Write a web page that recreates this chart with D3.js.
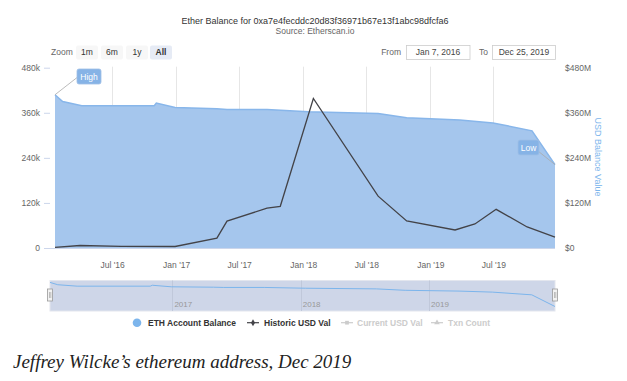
<!DOCTYPE html>
<html><head><meta charset="utf-8">
<script src="https://cdn.jsdelivr.net/npm/d3@7"></script>
<style>body{margin:0;background:#fff}svg{display:block}text{font-family:"Liberation Sans",Arial,sans-serif}</style>
</head><body>
<svg id="c" width="627" height="381"></svg>
<script>
// ---- data ----
const balanceDates = ["2016-01-19","2016-02-10","2016-04-05","2016-10-30","2016-11-05","2016-12-29","2017-04-28","2017-05-27","2017-09-19","2018-01-15","2018-08-04","2018-10-25","2019-03-27","2019-06-30","2019-10-20","2019-12-25"];
const balanceValues = [408000,390000,379000,379000,386000,374000,371000,369000,369000,363000,358000,347000,341000,333000,312000,222000];
const usdDates = ["2016-01-19","2016-03-31","2016-07-27","2016-12-29","2017-04-28","2017-05-27","2017-09-19","2017-10-27","2018-01-30","2018-08-04","2018-10-25","2019-03-13","2019-05-09","2019-07-09","2019-10-06","2019-12-25"];
const usdValues = [1.6e6,6.6e6,4.5e6,4e6,26.5e6,71.6e6,106e6,111e6,398e6,138e6,72e6,48e6,64e6,103e6,56e6,29e6];
const leftTicks = [0,120000,240000,360000,480000];
const rightTicks = [0,120e6,240e6,360e6,480e6];
const xTicks = ["2016-07-01","2017-01-01","2017-07-01","2018-01-01","2018-07-01","2019-01-01","2019-07-01"];
const navTicks = ["2017-01-01","2018-01-01","2019-01-01"];
const zoomButtons = ["1m","6m","1y","All"];
const legendLabels = ["ETH Account Balance","Historic USD Val","Current USD Val","Txn Count"];
const titleText = "Ether Balance for 0xa7e4fecddc20d83f36971b67e13f1abc98dfcfa6";
const subtitleText = "Source: Etherscan.io";
const fromText = "Jan 7, 2016", toText = "Dec 25, 2019";
const captionText = "Jeffrey Wilcke\u2019s ethereum address, Dec 2019";

const parse = d3.utcParse("%Y-%m-%d");
const bal = balanceDates.map((d,i)=>({d:parse(d), v:balanceValues[i]}));
const usd = usdDates.map((d,i)=>({d:parse(d), v:usdValues[i]}));

const svg = d3.select("#c");
const L = 55, R = 555, T = 67.7, B = 248;

const x = d3.scaleUtc().domain(d3.extent(bal, d=>d.d)).range([L,R]);
const yL = d3.scaleLinear().domain([0,480000]).range([B,T]);
const yR = d3.scaleLinear().domain([0,480e6]).range([B,T]);

// title
svg.append("text").attr("x",315).attr("y",23.5).attr("text-anchor","middle").attr("font-size",9).attr("fill","#333").text(titleText);
svg.append("text").attr("x",315).attr("y",34).attr("text-anchor","middle").attr("font-size",8.5).attr("fill","#666").text(subtitleText);

// zoom buttons
svg.append("text").attr("x",51).attr("y",55).attr("font-size",8.5).attr("fill","#666").text("Zoom");
const bx = [76,101,126,150];
zoomButtons.forEach((b,i)=>{
  const sel = b==="All";
  svg.append("rect").attr("x",bx[i]).attr("y",45.5).attr("width",22).attr("height",14).attr("rx",2)
    .attr("fill", sel?"#e6ebf5":"#f7f7f7");
  svg.append("text").attr("x",bx[i]+11).attr("y",55.3).attr("text-anchor","middle").attr("font-size",8.5)
    .attr("font-weight", sel?"bold":"normal").attr("fill","#333").text(b);
});
svg.append("text").attr("x",401).attr("y",55.3).attr("text-anchor","end").attr("font-size",8.5).attr("fill","#666").text("From");
svg.append("rect").attr("x",406.5).attr("y",45.5).attr("width",63.5).attr("height",14).attr("fill","#fff").attr("stroke","#ccc").attr("stroke-width",0.8);
svg.append("text").attr("x",438).attr("y",55.3).attr("text-anchor","middle").attr("font-size",8.5).attr("fill","#444").text(fromText);
svg.append("text").attr("x",488).attr("y",55.3).attr("text-anchor","end").attr("font-size",8.5).attr("fill","#666").text("To");
svg.append("rect").attr("x",492.5).attr("y",45.5).attr("width",63).attr("height",14).attr("fill","#fff").attr("stroke","#ccc").attr("stroke-width",0.8);
svg.append("text").attr("x",524).attr("y",55.3).attr("text-anchor","middle").attr("font-size",8.5).attr("fill","#444").text(toText);

// gridlines
svg.append("g").selectAll("line").data(xTicks.map(parse)).join("line")
  .attr("x1",d=>Math.round(x(d))+0.5).attr("x2",d=>Math.round(x(d))+0.5).attr("y1",T-1).attr("y2",B)
  .attr("stroke","#e6e6e6").attr("stroke-width",1);

// area
const area = d3.area().x(d=>x(d.d)).y0(B).y1(d=>yL(d.v));
svg.append("path").datum(bal).attr("d",area).attr("fill","#a5c6ed");
svg.append("path").datum(bal).attr("d",d3.line().x(d=>x(d.d)).y(d=>yL(d.v)))
  .attr("fill","none").attr("stroke","#88b6ea").attr("stroke-width",1.5);

// usd line
svg.append("path").datum(usd).attr("d",d3.line().x(d=>x(d.d)).y(d=>yR(d.v)))
  .attr("fill","none").attr("stroke","#434348").attr("stroke-width",1.3);

// left axis
const gL = svg.append("g").attr("transform",`translate(${50},0)`)
  .call(d3.axisLeft(yL).tickValues(leftTicks).tickSize(6).tickPadding(4).tickFormat(d=>d===0?"0":(d/1000)+"k"));
gL.select(".domain").remove();
gL.selectAll("line").attr("stroke","#ccd6eb");
gL.selectAll("text").attr("font-size",8.5).attr("fill","#666");

// x axis line
svg.append("line").attr("x1",44).attr("x2",R).attr("y1",B+0.5).attr("y2",B+0.5).attr("stroke","#ccd6eb");

// right axis
const gR = svg.append("g").attr("transform",`translate(${565},0)`)
  .call(d3.axisRight(yR).tickValues(rightTicks).tickSize(0).tickPadding(0).tickFormat(d=>d===0?"$0":"$"+(d/1e6)+"M"));
gR.select(".domain").remove();
gR.selectAll("text").attr("font-size",8.5).attr("fill","#666");
svg.append("text").attr("transform","translate(595,157) rotate(90)").attr("text-anchor","middle")
  .attr("font-size",9).attr("fill","#7cb5ec").text("USD Balance Value");

// x axis labels
const gX = svg.append("g").attr("transform",`translate(0,${B})`)
  .call(d3.axisBottom(x).tickValues(xTicks.map(parse)).tickSize(0).tickPadding(14).tickFormat(d3.utcFormat("%b '%y")));
gX.select(".domain").remove();
gX.selectAll("text").attr("font-size",8.5).attr("fill","#666");

// flags
function flag(px,py,bxL,byT,w,h,ex,ey,label){
  svg.append("line").attr("x1",px).attr("y1",py).attr("x2",ex).attr("y2",ey).attr("stroke","#aaa").attr("stroke-width",0.8);
  svg.append("rect").attr("x",bxL).attr("y",byT).attr("width",w).attr("height",h).attr("rx",2)
    .attr("fill","#86b3e6").attr("stroke","#9fbfe6").attr("stroke-width",0.8);
  svg.append("text").attr("x",bxL+w/2).attr("y",byT+h/2+3).attr("text-anchor","middle").attr("font-size",8.5).attr("fill","#fff").text(label);
}
const pH = bal[0], pLw = bal[bal.length-1];
flag(x(pH.d), yL(pH.v), 77, 69, 24, 15, 79, 76, "High");
flag(x(pLw.d), yL(pLw.v), 518, 140, 21, 15, 538, 151, "Low");

// navigator
const nT = 280.5, nB = 311;
const xn = d3.scaleUtc().domain(d3.extent(bal,d=>d.d)).range([50,555]);
const yn = d3.scaleLinear().domain(d3.extent(bal,d=>d.v)).range([306.5,282.4]);
svg.append("rect").attr("x",50).attr("y",nT).attr("width",505).attr("height",nB-nT).attr("fill","#ced6e8").attr("stroke","#e3e6ee").attr("stroke-width",1);
svg.append("g").selectAll("line").data(navTicks.map(parse)).join("line")
  .attr("x1",d=>Math.round(xn(d))+0.5).attr("x2",d=>Math.round(xn(d))+0.5).attr("y1",nT).attr("y2",nB).attr("stroke","#c0c8da");
svg.append("g").selectAll("text").data(navTicks.map(parse)).join("text")
  .attr("x",d=>xn(d)+2).attr("y",307).attr("font-size",8).attr("fill","#999").text(d3.utcFormat("%Y"));
svg.append("path").datum(bal).attr("d",d3.line().x(d=>xn(d.d)).y(d=>yn(d.v)))
  .attr("fill","none").attr("stroke","#7cb5ec").attr("stroke-width",1);
[50,555].forEach(hx=>{
  svg.append("rect").attr("x",hx-2.5).attr("y",289).attr("width",5).attr("height",12).attr("fill","#f2f2f2").attr("stroke","#999").attr("stroke-width",0.8);
  svg.append("line").attr("x1",hx-0.5).attr("x2",hx-0.5).attr("y1",292).attr("y2",298).attr("stroke","#999").attr("stroke-width",0.6);
  svg.append("line").attr("x1",hx+0.8).attr("x2",hx+0.8).attr("y1",292).attr("y2",298).attr("stroke","#999").attr("stroke-width",0.6);
});

// legend
const ly = 322.7;
svg.append("circle").attr("cx",137).attr("cy",ly).attr("r",4.3).attr("fill","#7cb5ec");
svg.append("text").attr("x",148).attr("y",ly+3).attr("font-size",8.5).attr("font-weight","bold").attr("fill","#333").text(legendLabels[0]);
svg.append("line").attr("x1",247).attr("x2",259).attr("y1",ly).attr("y2",ly).attr("stroke","#434348").attr("stroke-width",1.2);
svg.append("path").attr("d",d3.symbol(d3.symbolDiamond,14)()).attr("transform",`translate(253,${ly})`).attr("fill","#434348");
svg.append("text").attr("x",264).attr("y",ly+3).attr("font-size",8.5).attr("font-weight","bold").attr("fill","#333").text(legendLabels[1]);
svg.append("line").attr("x1",341).attr("x2",353).attr("y1",ly).attr("y2",ly).attr("stroke","#ccc").attr("stroke-width",1.2);
svg.append("path").attr("d",d3.symbol(d3.symbolSquare,14)()).attr("transform",`translate(347,${ly})`).attr("fill","#ccc");
svg.append("text").attr("x",357).attr("y",ly+3).attr("font-size",8.5).attr("font-weight","bold").attr("fill","#ccc").text(legendLabels[2]);
svg.append("line").attr("x1",431).attr("x2",443).attr("y1",ly).attr("y2",ly).attr("stroke","#ccc").attr("stroke-width",1.2);
svg.append("path").attr("d",d3.symbol(d3.symbolTriangle,14)()).attr("transform",`translate(437,${ly})`).attr("fill","#ccc");
svg.append("text").attr("x",448).attr("y",ly+3).attr("font-size",8.5).attr("font-weight","bold").attr("fill","#ccc").text(legendLabels[3]);

// caption
svg.append("text").attr("x",13).attr("y",368).attr("font-size",19)
  .style("font-family","'Liberation Serif','Times New Roman',serif").style("font-style","italic")
  .attr("fill","#222").text(captionText);
</script>
</body></html>
